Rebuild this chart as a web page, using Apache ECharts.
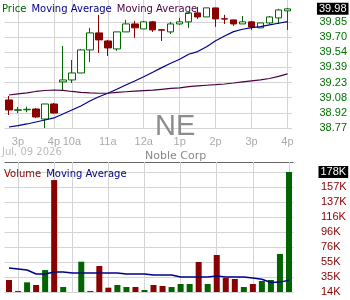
<!DOCTYPE html>
<html>
<head>
<meta charset="utf-8">
<script src="https://cdn.jsdelivr.net/npm/echarts@6/dist/echarts.min.js"></script>
<style>
  html, body { margin: 0; padding: 0; background: #fff; }
  #chart { width: 350px; height: 300px; }
</style>
</head>
<body>
<div id="chart"></div>
<script>
// 15 min bars: tail of Jul 08 + Jul 09 session
const times = [
  '07-08 14:45', '07-08 15:00', '07-08 15:15', '07-08 15:30', '07-08 15:45', '07-08 16:00',
  '07-09 09:45', '07-09 10:00', '07-09 10:15', '07-09 10:30', '07-09 10:45', '07-09 11:00',
  '07-09 11:15', '07-09 11:30', '07-09 11:45', '07-09 12:00', '07-09 12:15', '07-09 12:30',
  '07-09 12:45', '07-09 13:00', '07-09 13:15', '07-09 13:30', '07-09 13:45', '07-09 14:00',
  '07-09 14:15', '07-09 14:30', '07-09 14:45', '07-09 15:00', '07-09 15:15', '07-09 15:30',
  '07-09 15:45', '07-09 16:00'
];
const timeTickIdx = [1, 5, 7, 11, 15, 19, 23, 27, 31];
const timeTickText = ['3p', '4p', '10a', '11a', '12a', '1p', '2p', '3p', '4p'];

const opens = [39.055, 38.950, 38.955, 38.963, 38.861, 39.014, 39.238, 39.258, 39.329, 39.563, 39.736,
  39.654, 39.573, 39.746, 39.827, 39.776, 39.848, 39.768, 39.746, 39.827, 39.848, 39.939, 39.898,
  39.990, 39.880, 39.868, 39.827, 39.848, 39.787, 39.837, 39.888, 39.960];
const closes = [38.953, 38.955, 38.960, 38.882, 39.014, 38.922, 39.258, 39.329, 39.563, 39.736, 39.665,
  39.583, 39.746, 39.827, 39.787, 39.848, 39.766, 39.764, 39.827, 39.848, 39.939, 39.898, 39.990,
  39.878, 39.876, 39.827, 39.848, 39.797, 39.837, 39.898, 39.969, 39.980];
const lows = [38.902, 38.922, 38.930, 38.872, 38.770, 38.917, 39.146, 39.227, 39.329, 39.441, 39.532,
  39.502, 39.553, 39.746, 39.685, 39.776, 39.746, 39.654, 39.725, 39.817, 39.787, 39.878, 39.898,
  39.797, 39.827, 39.807, 39.827, 39.766, 39.787, 39.827, 39.827, 39.766];
const highs = [39.095, 38.983, 38.987, 38.973, 39.014, 39.024, 39.604, 39.461, 39.573, 39.787, 39.919,
  39.665, 39.746, 39.868, 39.858, 39.858, 39.858, 39.776, 39.848, 39.888, 39.949, 40.000, 39.990,
  39.990, 39.919, 39.868, 39.908, 39.858, 39.837, 39.908, 39.980, 39.990];

// price moving averages
const maFast = [38.780, 38.795, 38.811, 38.831, 38.851, 38.872, 38.912, 38.953, 38.994, 39.044, 39.088,
  39.123, 39.163, 39.207, 39.248, 39.291, 39.336, 39.383, 39.428, 39.468, 39.519, 39.546, 39.596,
  39.657, 39.705, 39.749, 39.773, 39.790, 39.800, 39.817, 39.834, 39.851];
const maSlow = [39.105, 39.116, 39.126, 39.141, 39.151, 39.156, 39.153, 39.141, 39.131, 39.126, 39.123,
  39.123, 39.131, 39.138, 39.144, 39.149, 39.154, 39.163, 39.172, 39.177, 39.190, 39.197, 39.204,
  39.210, 39.217, 39.227, 39.238, 39.248, 39.258, 39.273, 39.294, 39.319];

const volumes = [30400, 15400, 27200, 23600, 44000, 167000, 20800, 0, 55400, 15400, 49500,
  19900, 23600, 20800, 20800, 16700, 23600, 22200, 20800, 24900, 24900, 55000, 24900,
  64600, 33100, 31800, 20800, 24900, 29000, 30400, 66000, 178000];
const volumeMa = [46800, 45400, 44000, 38600, 38600, 41300, 41300, 40000, 40000, 40000, 40000,
  40000, 40000, 38600, 38600, 38600, 37200, 37200, 37200, 34500, 34500, 34500, 34500,
  36000, 34500, 34500, 34500, 33000, 31500, 27000, 27500, 30000];

const priceTicks = ['38.77', '38.92', '39.08', '39.23', '39.39', '39.54', '39.70', '39.85'];
const volumeTicks = ['14K', '35K', '55K', '76K', '96K', '116K', '137K', '157K'];
const priceMin = 38.77, priceStep = 0.15375, priceMax = 40.07;
const volMin = 14000, volStep = 20500, volMax = 191667;

const green = '#006400';
const red = '#8b0000';
const blue = '#00008b';
const purple = '#4c0045';
const gridColor = '#d4d4d4';
const labelFont = 'Liberation Sans';
const titleFont = 'DejaVu Sans';

const candles = opens.map((o, i) => [o, closes[i], lows[i], highs[i]]);

const tickLabel = (v, min, step, labels) => {
  const k = Math.round((v - min) / step);
  if (Math.abs(v - (min + k * step)) > step * 0.001) return '';
  return labels[k] || '';
};

const fill = (n, c) => Array(n).fill(c);
const richText = (color) => ({ color: color, fontSize: 10, fontWeight: 'normal', fontFamily: titleFont });

const chart = echarts.init(document.getElementById('chart'));

const xBase = {
  type: 'category',
  data: times,
  boundaryGap: true,
  axisLine: { show: false },
  axisTick: { show: false },
  splitLine: {
    show: true,
    interval: (i) => timeTickIdx.includes(i),
    alignWithLabel: true,
    lineStyle: { color: gridColor, width: 1 }
  }
};

chart.setOption({
  animation: false,
  backgroundColor: '#fff',
  title: [
    {
      left: 2, top: 0, padding: 0,
      text: '{g|Price} {b|Moving Average} {p|Moving Average}',
      textStyle: {
        fontWeight: 'normal',
        rich: { g: richText(green), b: richText(blue), p: richText(purple) }
      }
    },
    {
      left: 4, top: 165, padding: 0,
      text: '{r|Volume} {b|Moving Average}',
      textStyle: {
        fontWeight: 'normal',
        rich: { r: richText(red), b: richText(blue) }
      }
    },
    {
      left: 2, top: 147, padding: 0,
      text: 'Jul, 09 2026',
      textStyle: { color: '#bbb', fontSize: 10, fontWeight: 'normal', fontFamily: titleFont }
    },
    {
      left: 145, top: 151, padding: 0,
      text: 'Noble Corp',
      textStyle: { color: '#888', fontSize: 11, fontWeight: 'normal', fontFamily: titleFont }
    },
    {
      left: 155, top: 112, padding: 0,
      text: 'NE',
      textStyle: { color: '#8c8c8c', fontSize: 29, fontWeight: 'normal', fontFamily: labelFont }
    }
  ],
  grid: [
    { left: 4.5, right: 56.5, top: 0, height: 128 },
    { left: 4.5, right: 56.5, top: 162, height: 130 }
  ],
  xAxis: [
    {
      ...xBase,
      gridIndex: 0,
      axisLabel: {
        interval: (i) => timeTickIdx.includes(i),
        formatter: (v, i) => timeTickText[timeTickIdx.indexOf(i)] || '',
        color: '#aaa',
        fontSize: 11,
        fontFamily: labelFont,
        margin: 8
      }
    },
    {
      ...xBase,
      gridIndex: 1,
      axisLabel: { show: false }
    }
  ],
  yAxis: [
    {
      type: 'value',
      gridIndex: 0,
      position: 'right',
      min: priceMin,
      max: priceMax,
      interval: priceStep,
      axisLine: { show: false },
      axisTick: { show: false },
      splitLine: {
        lineStyle: { color: fill(8, gridColor).concat(['transparent', 'transparent']) }
      },
      axisLabel: {
        formatter: (v) => tickLabel(v, priceMin, priceStep, priceTicks),
        color: '#007000',
        fontSize: 11,
        fontFamily: labelFont,
        margin: 27.5
      }
    },
    {
      type: 'value',
      gridIndex: 1,
      position: 'right',
      min: volMin,
      max: volMax,
      interval: volStep,
      axisLine: { show: false },
      axisTick: { show: false },
      splitLine: {
        lineStyle: { color: fill(9, gridColor).concat(['#666']) }
      },
      axisLabel: {
        formatter: (v) => tickLabel(v, volMin, volStep, volumeTicks),
        color: red,
        fontSize: 11,
        fontFamily: labelFont,
        margin: 27.5
      }
    }
  ],
  series: [
    {
      type: 'candlestick',
      xAxisIndex: 0,
      yAxisIndex: 0,
      data: candles,
      barWidth: 7,
      itemStyle: {
        color: '#fff',
        color0: red,
        borderColor: green,
        borderColor0: red,
        borderWidth: 1
      },
      markLine: {
        silent: true,
        symbol: 'none',
        lineStyle: { color: 'transparent', width: 0 },
        label: {
          position: 'end',
          distance: 25,
          formatter: (p) => p.value.toFixed(2),
          color: '#fff',
          backgroundColor: '#000',
          padding: [1, 2, 0, 2],
          fontSize: 11,
          fontFamily: labelFont
        },
        data: [{ yAxis: closes[closes.length - 1] }]
      }
    },
    {
      type: 'line',
      xAxisIndex: 0,
      yAxisIndex: 0,
      data: maFast,
      symbol: 'none',
      lineStyle: { color: blue, width: 1.2 }
    },
    {
      type: 'line',
      xAxisIndex: 0,
      yAxisIndex: 0,
      data: maSlow,
      symbol: 'none',
      lineStyle: { color: purple, width: 1.2 }
    },
    {
      type: 'bar',
      xAxisIndex: 1,
      yAxisIndex: 1,
      data: volumes,
      barWidth: 6,
      itemStyle: {
        color: (p) => closes[p.dataIndex] >= opens[p.dataIndex] ? green : red
      },
      markLine: {
        silent: true,
        symbol: 'none',
        lineStyle: { color: 'transparent', width: 0 },
        label: {
          position: 'end',
          distance: 25,
          formatter: (p) => Math.round(p.value / 1000) + 'K',
          color: '#fff',
          backgroundColor: '#000',
          padding: [1, 2, 0, 2],
          fontSize: 11,
          fontFamily: labelFont
        },
        data: [{ yAxis: volumes[volumes.length - 1] }]
      }
    },
    {
      type: 'line',
      xAxisIndex: 1,
      yAxisIndex: 1,
      data: volumeMa,
      symbol: 'none',
      lineStyle: { color: blue, width: 1.5 }
    }
  ]
});
</script>
</body>
</html>
